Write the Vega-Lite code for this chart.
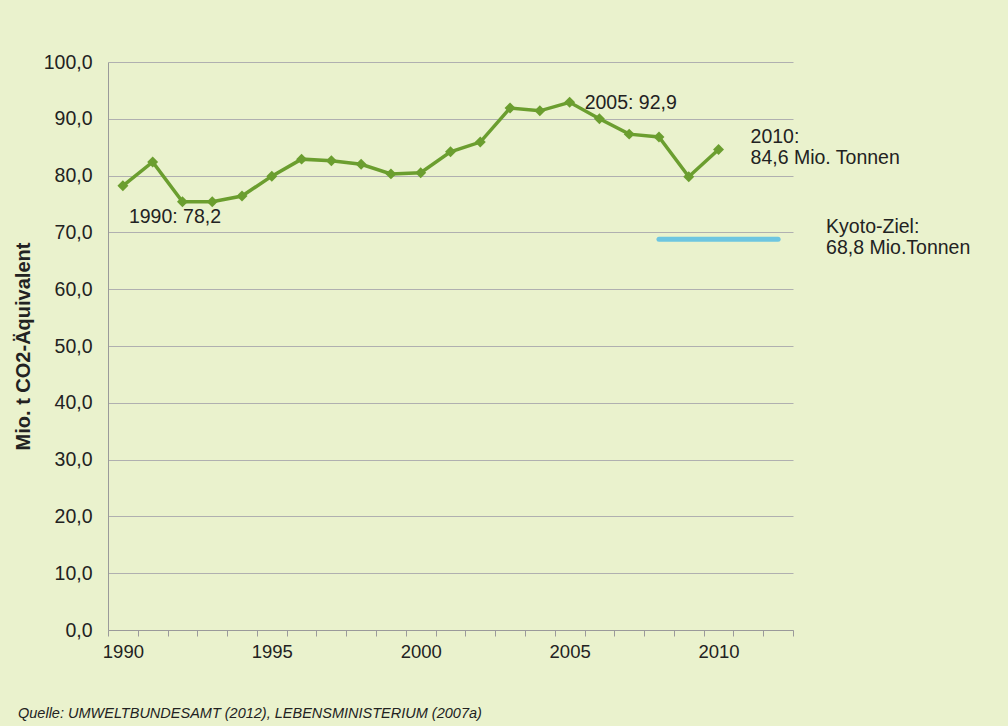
{
  "$schema": "https://vega.github.io/schema/vega-lite/v6.json",
  "width": 685,
  "height": 568,
  "autosize": {"type": "none"},
  "padding": {"left": 108, "top": 62, "right": 215, "bottom": 96},
  "background": "#eaf2cd",
  "config": {"view": {"stroke": null}, "font": "Liberation Sans"},
  "title": {
    "text": "Quelle: UMWELTBUNDESAMT (2012), LEBENSMINISTERIUM (2007a)",
    "orient": "bottom",
    "anchor": "start",
    "frame": "group",
    "font": "Liberation Sans",
    "fontStyle": "italic",
    "fontWeight": "normal",
    "fontSize": 14.5,
    "color": "#222222",
    "dx": -90,
    "offset": 46
  },
  "datasets": {
    "emissions": [
      {"year": 1990, "value": 78.2},
      {"year": 1991, "value": 82.4},
      {"year": 1992, "value": 75.4},
      {"year": 1993, "value": 75.4},
      {"year": 1994, "value": 76.4},
      {"year": 1995, "value": 79.9},
      {"year": 1996, "value": 82.9},
      {"year": 1997, "value": 82.6},
      {"year": 1998, "value": 82.0},
      {"year": 1999, "value": 80.3},
      {"year": 2000, "value": 80.5},
      {"year": 2001, "value": 84.2},
      {"year": 2002, "value": 85.9},
      {"year": 2003, "value": 91.9},
      {"year": 2004, "value": 91.4},
      {"year": 2005, "value": 92.9},
      {"year": 2006, "value": 90.0},
      {"year": 2007, "value": 87.3},
      {"year": 2008, "value": 86.8},
      {"year": 2009, "value": 79.8},
      {"year": 2010, "value": 84.6}
    ],
    "kyoto": [
      {"year": 2008, "value": 68.8},
      {"year": 2012, "value": 68.8}
    ],
    "notes": [
      {"id": "a", "year": 1990, "value": 78.2, "label": "1990: 78,2"},
      {"id": "b", "year": 2005, "value": 92.9, "label": "2005: 92,9"},
      {"id": "c", "year": 2010, "value": 84.6, "label": ["2010:", "84,6 Mio. Tonnen"]},
      {"id": "d", "year": 2012, "value": 68.8, "label": ["Kyoto-Ziel:", "68,8 Mio.Tonnen"]}
    ]
  },
  "encoding": {
    "x": {
      "field": "year",
      "type": "ordinal",
      "scale": {"type": "band", "domain": [1990,1991,1992,1993,1994,1995,1996,1997,1998,1999,2000,2001,2002,2003,2004,2005,2006,2007,2008,2009,2010,2011,2012], "paddingInner": 0, "paddingOuter": 0},
      "axis": {
        "title": null,
        "tickBand": "extent",
        "labelExpr": "datum.value % 5 === 0 ? datum.label : ''",
        "labelAngle": 0,
        "labelOverlap": false,
        "labelFontSize": 18.5,
        "labelColor": "#222222",
        "labelPadding": 6,
        "domainColor": "#9a9a9a",
        "tickColor": "#9a9a9a",
        "tickSize": 6,
        "grid": false
      }
    },
    "y": {
      "field": "value",
      "type": "quantitative",
      "scale": {"domain": [0, 100], "nice": false, "zero": true},
      "axis": {
        "title": "Mio. t CO2-Äquivalent",
        "titleFontSize": 20,
        "titleFontWeight": "bold",
        "titleColor": "#222222",
        "titlePadding": 10,
        "values": [0, 10, 20, 30, 40, 50, 60, 70, 80, 90, 100],
        "labelExpr": "replace(format(datum.value, '.1f'), '.', ',')",
        "labelFontSize": 19.5,
        "labelColor": "#222222",
        "labelPadding": 16,
        "ticks": false,
        "gridColor": "#b0b0b0",
        "domainColor": "#9a9a9a"
      }
    }
  },
  "layer": [
    {
      "data": {"name": "kyoto"},
      "mark": {"type": "line", "color": "#6ec6e0", "strokeWidth": 5, "strokeCap": "round"}
    },
    {
      "data": {"name": "emissions"},
      "mark": {"type": "line", "color": "#6b9e2f", "strokeWidth": 3.5}
    },
    {
      "data": {"name": "emissions"},
      "mark": {"type": "point", "shape": "diamond", "filled": true, "opacity": 1, "color": "#6b9e2f", "size": 120}
    },
    {
      "data": {"name": "notes"},
      "transform": [{"filter": "datum.id === 'a'"}],
      "mark": {"type": "text", "align": "left", "baseline": "middle", "dx": 6, "dy": 31, "fontSize": 19.5, "color": "#222222"},
      "encoding": {"text": {"field": "label"}}
    },
    {
      "data": {"name": "notes"},
      "transform": [{"filter": "datum.id === 'b'"}],
      "mark": {"type": "text", "align": "left", "baseline": "middle", "dx": 15, "dy": 1, "fontSize": 19.5, "color": "#222222"},
      "encoding": {"text": {"field": "label"}}
    },
    {
      "data": {"name": "notes"},
      "transform": [{"filter": "datum.id === 'c'"}],
      "mark": {"type": "text", "align": "left", "baseline": "middle", "dx": 32, "dy": -12, "fontSize": 19.5, "lineHeight": 21, "color": "#222222"},
      "encoding": {"text": {"field": "label"}}
    },
    {
      "data": {"name": "notes"},
      "transform": [{"filter": "datum.id === 'd'"}],
      "mark": {"type": "text", "align": "left", "baseline": "middle", "dx": 48, "dy": -12, "fontSize": 19.5, "lineHeight": 21, "color": "#222222"},
      "encoding": {"text": {"field": "label"}}
    }
  ]
}
